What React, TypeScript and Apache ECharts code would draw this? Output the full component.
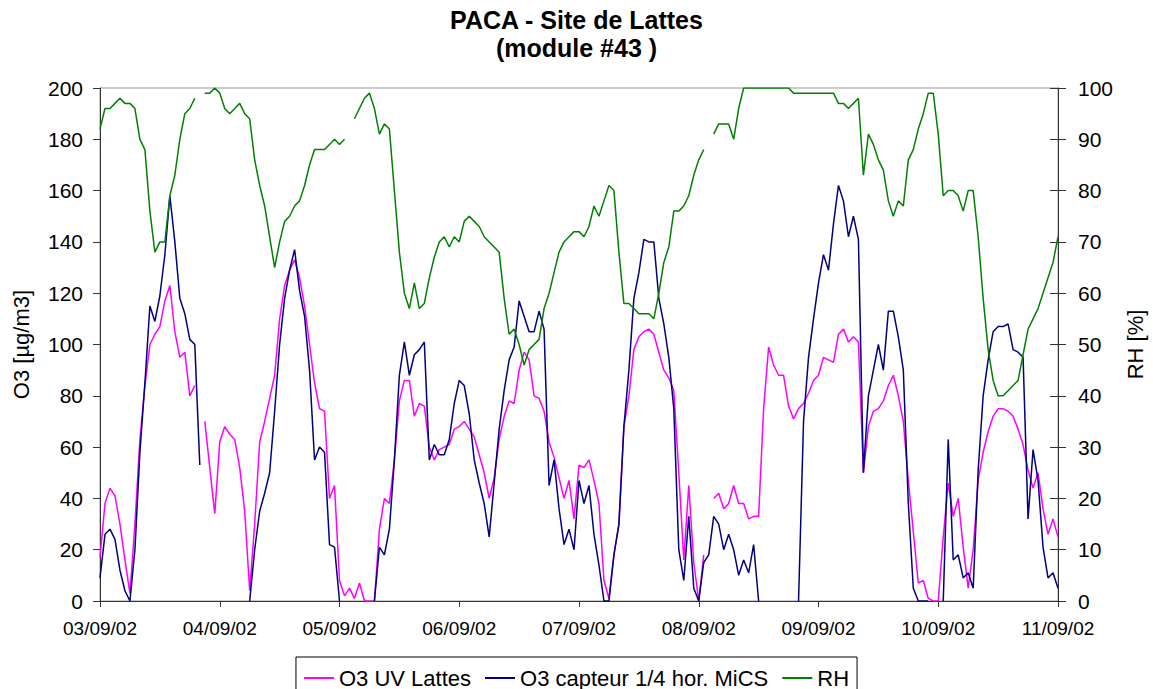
import { useEffect, useRef } from "react";
import * as echarts from "echarts";

// x positions are hours since 03/09/02 00:00 (hourly readings)
const dateLabels = ["03/09/02", "04/09/02", "05/09/02", "06/09/02", "07/09/02", "08/09/02", "09/09/02", "10/09/02", "11/09/02"];

const o3UV: (number | null)[] = [
  17, 38, 44, 41, 30, 16, 3, 30, 63, 84, 100, 104, 107, 117, 123, 105, 95, 97, 80, 84, null, 70, 52, 34, 62,
  68, 65, 63, 52, 35, 4, 30, 62, 70, 79, 88, 110, 123, 129, 133, 126, 115, 100, 85, 75, 74, 40, 45, 8,
  2, 5, 1, 7, 0, 0, 0, 28, 40, 38, 55, 78, 86, 86, 72, 77, 76, 60, 55, 59, 60, 61, 67, 68,
  70, 67, 64, 57, 50, 40, 48, 63, 72, 78, 77, 90, 97, 94, 80, 79, 74, 62, 56, 48, 40, 47, 32, 53,
  52, 55, 47, 38, 8, 1, 18, 30, 68, 80, 98, 103, 105, 106, 104, 97, 90, 87, 82, 50, 16, 45, 15, 0,
  18, null, 40, 42, 36, 38, 45, 38, 38, 32, 33, 33, 75, 99, 92, 88, 88, 76, 71, 75, 77, 81, 86, 88,
  95, 94, 93, 104, 106, 101, 103, 101, 50, 68, 74, 75, 78, 84, 88, 80, 70, 47, 27, 7, 8, 1, 0, 0,
  25, 46, 33, 40, 21, 5, 20, 47, 58, 66, 72, 75, 75, 74, 72, 67, 61, 51, 44, 50, 36, 26, 32, 25,
];

const o3MiCS: (number | null)[] = [
  9, 26, 28, 24, 12, 4, 0, 20, 58, 85, 115, 109, 119, 135, 158, 140, 118, 112, 102, 100, 53, null, null, null, null,
  null, null, null, null, null, 0, 20, 35, 42, 50, 74, 100, 118, 129, 137, 121, 111, 90, 55, 60, 58, 22, 21, 0,
  null, null, null, null, null, null, 0, 21, 18, 28, 55, 88, 101, 88, 96, 98, 101, 55, 61, 57, 57, 63, 77, 86,
  84, 73, 55, 46, 38, 25, 46, 67, 82, 94, 99, 117, 111, 105, 105, 113, 106, 45, 55, 36, 22, 28, 20, 47,
  38, 45, 26, 14, 0, 0, 18, 30, 68, 90, 118, 128, 141, 140, 140, 118, 108, 95, 75, 20, 8, 33, 5, 0,
  15, 18, 33, 30, 20, 26, 20, 10, 16, 11, 22, 0, null, null, null, null, null, null, null, 0, 70, 95, 110, 124,
  135, 129, 147, 162, 156, 142, 150, 141, 50, 80, 90, 100, 90, 113, 113, 103, 90, 38, 5, 0, 0, 0, null, null,
  0, 63, 16, 18, 9, 11, 5, 51, 80, 94, 105, 107, 107, 108, 98, 97, 95, 32, 59, 47, 21, 9, 11, 5,
];

const rh: (number | null)[] = [
  92, 96, 96, 97, 98, 97, 97, 96, 90, 88, 76, 68, 70, 70, 79, 83, 90, 95, 96, 98, null, 99, 99, 100, 99,
  96, 95, 96, 97, 95, 94, 86, 81, 77, 71, 65, 70, 74, 75, 77, 78, 81, 85, 88, 88, 88, 89, 90, 89,
  90, null, 94, 96, 98, 99, 96, 91, 93, 92, 80, 68, 60, 57, 62, 57, 58, 63, 67, 70, 71, 69, 71, 70,
  74, 75, 74, 73, 71, 70, 69, 68, 59, 52, 53, 50, 46, 49, 50, 51, 57, 60, 64, 68, 70, 71, 72, 72,
  71, 73, 77, 75, 78, 81, 80, 68, 58, 58, 57, 56, 56, 56, 55, 60, 66, 69, 76, 76, 77, 79, 83, 86,
  88, null, 91, 93, 93, 93, 90, 96, 100, 100, 100, 100, 100, 100, 100, 100, 100, 100, 99, 99, 99, 99, 99, 99,
  99, 99, 99, 97, 97, 96, 97, 98, 83, 91, 89, 86, 84, 78, 75, 78, 77, 86, 88, 92, 95, 99, 99, 91,
  79, 80, 80, 79, 76, 80, 80, 71, 59, 49, 43, 40, 40, 41, 42, 43, 48, 53, 55, 57, 60, 63, 66, 71,
];

const FONT = "'Liberation Sans', Arial, sans-serif";

export default function App() {
  const ref = useRef<HTMLDivElement>(null);

  useEffect(() => {
    if (!ref.current) return;
    const chart = echarts.init(ref.current, null, { renderer: "svg" });
    const toPairs = (arr: (number | null)[]) => arr.map((v, i) => [i, v]);
    const axisColor = "#333";
    chart.setOption({
      animation: false,
      backgroundColor: "#fff",
      textStyle: { fontFamily: FONT, color: "#000" },
      title: {
        text: "PACA - Site de Lattes\n(module #43 )",
        left: "center",
        top: 6,
        padding: 0,
        textStyle: { fontFamily: FONT, fontSize: 25, fontWeight: "bold", lineHeight: 28, color: "#000" },
      },
      legend: {
        top: 657,
        left: "center",
        padding: [10, 8, 30, 8],
        borderColor: "#000",
        borderWidth: 1,
        itemGap: 14,
        itemWidth: 30,
        itemHeight: 2,
        icon: "rect",
        textStyle: { fontFamily: FONT, fontSize: 22, color: "#000" },
        data: ["O3 UV Lattes", "O3 capteur 1/4 hor. MiCS", "RH"],
      },
      grid: {
        left: 100,
        right: 95,
        top: 88,
        bottom: 88,
        show: true,
        borderColor: "#999",
        borderWidth: 1,
        backgroundColor: "transparent",
        containLabel: false,
        outerBoundsMode: "none",
      },
      xAxis: {
        type: "value",
        min: 0,
        max: 192,
        interval: 24,
        axisLine: { show: true, onZero: false, lineStyle: { color: axisColor, width: 1 } },
        axisTick: { show: true, length: 6, lineStyle: { color: axisColor } },
        splitLine: { show: false },
        axisLabel: {
          margin: 18,
          fontSize: 19,
          fontFamily: FONT,
          color: "#000",
          formatter: (v: number) => dateLabels[Math.round(v / 24)] ?? "",
        },
      },
      yAxis: [
        {
          type: "value",
          min: 0,
          max: 200,
          interval: 20,
          position: "left",
          name: "O3 [µg/m3]",
          nameLocation: "middle",
          nameGap: 68,
          nameRotate: 90,
          nameTextStyle: { fontFamily: FONT, fontSize: 22, color: "#000" },
          axisLine: { show: true, lineStyle: { color: axisColor, width: 1 } },
          axisTick: { show: true, length: 7, lineStyle: { color: axisColor } },
          splitLine: { show: false },
          axisLabel: { margin: 17, fontSize: 21, fontFamily: FONT, color: "#000" },
        },
        {
          type: "value",
          min: 0,
          max: 100,
          interval: 10,
          position: "right",
          name: "RH [%]",
          nameLocation: "middle",
          nameGap: 66,
          nameRotate: 90,
          nameTextStyle: { fontFamily: FONT, fontSize: 22, color: "#000" },
          axisLine: { show: true, lineStyle: { color: axisColor, width: 1 } },
          axisTick: { show: true, length: 8, lineStyle: { color: axisColor } },
          splitLine: { show: false },
          axisLabel: { margin: 20, fontSize: 21, fontFamily: FONT, color: "#000" },
        },
        {
          type: "value",
          min: 0,
          max: 100,
          interval: 10,
          position: "right",
          axisLine: { show: false },
          axisTick: { show: true, inside: true, length: 8, lineStyle: { color: axisColor } },
          splitLine: { show: false },
          axisLabel: { show: false },
        },
      ],
      series: [
        {
          name: "O3 UV Lattes",
          type: "line",
          yAxisIndex: 0,
          data: toPairs(o3UV),
          showSymbol: false,
          connectNulls: false,
          lineStyle: { color: "#ff00ff", width: 1.5 },
          itemStyle: { color: "#ff00ff" },
        },
        {
          name: "O3 capteur 1/4 hor. MiCS",
          type: "line",
          yAxisIndex: 0,
          data: toPairs(o3MiCS),
          showSymbol: false,
          connectNulls: false,
          lineStyle: { color: "#000080", width: 1.5 },
          itemStyle: { color: "#000080" },
        },
        {
          name: "RH",
          type: "line",
          yAxisIndex: 1,
          data: toPairs(rh),
          showSymbol: false,
          connectNulls: false,
          lineStyle: { color: "#008000", width: 1.5 },
          itemStyle: { color: "#008000" },
        },
      ],
    });
    return () => chart.dispose();
  }, []);

  return (
    <div
      ref={ref}
      style={{ position: "absolute", left: 0, top: 0, width: 1153, height: 689, background: "#fff" }}
    />
  );
}
